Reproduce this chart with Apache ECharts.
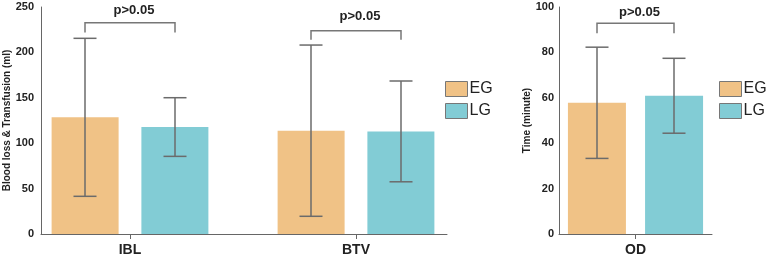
<!DOCTYPE html>
<html>
<head>
<meta charset="utf-8">
<script src="https://cdn.jsdelivr.net/npm/echarts@6/dist/echarts.min.js"></script>
<style>
  html, body { margin: 0; padding: 0; background: #fff; }
  #main { width: 767px; height: 258px; }
</style>
</head>
<body>
<div id="main"></div>
<script>
// data
var groups = ['EG', 'LG'];
var catLeft = ['IBL', 'BTV'];
var catRight = ['OD'];

var egMeanLeft = [128.5, 113.8];
var egSdLeft = [87, 94.3];
var lgMeanLeft = [117.8, 113];
var lgSdLeft = [32.3, 55.5];

var egMeanRight = [57.8];
var egSdRight = [24.5];
var lgMeanRight = [60.9];
var lgSdRight = [16.5];

// significance brackets: top of bracket, end of drops, label level
var sigTopLeft = [232.7, 223.9];
var sigDropLeft = [221.8, 214];
var sigTextLeft = [245.9, 239.3];
var sigTopRight = [92.8];
var sigDropRight = [88.4];
var sigTextRight = [97.6];
var sigLabel = 'p>0.05';

var yMaxLeft = 250, yStepLeft = 50;
var yMaxRight = 100, yStepRight = 20;

var FONT = 'Liberation Sans, Arial, sans-serif';
var colEG = '#F0C286';
var colLG = '#82CCD5';
var axisCol = '#666';
var errCol = '#6b6b6b';

var myChart = echarts.init(document.getElementById('main'));

function errorSeries(xi, yi, means, sds, side, offset) {
  return {
    type: 'custom',
    xAxisIndex: xi,
    yAxisIndex: yi,
    z: 5,
    silent: true,
    encode: { x: 0, y: [1, 2] },
    data: means.map(function (m, i) { return [i, m - sds[i], m + sds[i]]; }),
    renderItem: function (params, api) {
      var cx = api.coord([api.value(0), 0])[0] + side * offset;
      var lo = api.coord([api.value(0), api.value(1)])[1];
      var hi = api.coord([api.value(0), api.value(2)])[1];
      var cap = 11.5;
      var st = { stroke: errCol, lineWidth: 1.5 };
      return {
        type: 'group',
        children: [
          { type: 'line', shape: { x1: cx, y1: lo, x2: cx, y2: hi }, style: st },
          { type: 'line', shape: { x1: cx - cap, y1: hi, x2: cx + cap, y2: hi }, style: st },
          { type: 'line', shape: { x1: cx - cap, y1: lo, x2: cx + cap, y2: lo }, style: st }
        ]
      };
    }
  };
}

function sigSeries(xi, yi, tops, drops, texts, offset) {
  return {
    type: 'custom',
    xAxisIndex: xi,
    yAxisIndex: yi,
    z: 5,
    silent: true,
    encode: { x: 0, y: [1, 2, 3] },
    data: tops.map(function (t, i) { return [i, t, drops[i], texts[i]]; }),
    renderItem: function (params, api) {
      var cx = api.coord([api.value(0), 0])[0];
      var yTop = api.coord([api.value(0), api.value(1)])[1];
      var yDrop = api.coord([api.value(0), api.value(2)])[1];
      var yText = api.coord([api.value(0), api.value(3)])[1];
      return {
        type: 'group',
        children: [
          {
            type: 'polyline',
            shape: { points: [[cx - offset, yDrop], [cx - offset, yTop], [cx + offset, yTop], [cx + offset, yDrop]] },
            style: { stroke: '#777', lineWidth: 1.5, fill: null }
          },
          {
            type: 'text',
            x: cx + 4,
            y: yText,
            style: {
              text: sigLabel, fill: '#222', font: 'bold 13px ' + FONT,
              align: 'center', verticalAlign: 'middle'
            }
          }
        ]
      };
    }
  };
}

var yLabel = { color: '#222', fontWeight: 'bold', fontSize: 11, fontFamily: FONT };
var yName = { color: '#222', fontWeight: 'bold', fontSize: 10, fontFamily: FONT };
var xLabel = { color: '#222', fontWeight: 'bold', fontSize: 14, fontFamily: FONT, margin: 9 };

var legendBase = {
  orient: 'vertical',
  top: 81,
  padding: 0,
  icon: 'rect',
  itemWidth: 22,
  itemHeight: 15,
  itemGap: 6,
  data: groups,
  selectedMode: false,
  itemStyle: { borderColor: '#777', borderWidth: 1 },
  textStyle: { color: '#222', fontSize: 16, fontFamily: FONT, padding: [0, 0, 0, -3] }
};

var option = {
  animation: false,
  color: [colEG, colLG],
  grid: [
    { left: 41, width: 406, top: 7, bottom: 24, outerBoundsMode: 'none' },   // frame of left panel
    { left: 17, width: 452, top: 7, bottom: 24, outerBoundsMode: 'none' },   // bars of left panel
    { left: 559, width: 153, top: 7, bottom: 24, outerBoundsMode: 'none' }   // right panel
  ],
  legend: [
    Object.assign({ left: 445 }, legendBase),
    Object.assign({ left: 719 }, legendBase)
  ],
  xAxis: [
    {
      gridIndex: 0, type: 'category', data: [''],
      axisLine: { show: true, lineStyle: { color: axisCol, width: 1 } },
      axisTick: { show: false }, axisLabel: { show: false }
    },
    {
      gridIndex: 1, type: 'category', data: catLeft,
      axisLine: { show: false },
      axisTick: { show: true, alignWithLabel: true, length: 5, lineStyle: { color: axisCol } },
      axisLabel: xLabel
    },
    {
      gridIndex: 2, type: 'category', data: catRight,
      axisLine: { show: true, lineStyle: { color: axisCol, width: 1 } },
      axisTick: { show: true, alignWithLabel: true, length: 5, lineStyle: { color: axisCol } },
      axisLabel: xLabel
    }
  ],
  yAxis: [
    {
      gridIndex: 0, type: 'value', min: 0, max: yMaxLeft, interval: yStepLeft,
      name: 'Blood loss & Transfusion (ml)', nameLocation: 'middle', nameGap: 29,
      nameMoveOverlap: false,
      nameTextStyle: yName,
      axisLine: { show: true, lineStyle: { color: axisCol, width: 1 } },
      axisTick: { show: false }, splitLine: { show: false },
      axisLabel: Object.assign({ margin: 7 }, yLabel)
    },
    {
      gridIndex: 1, type: 'value', min: 0, max: yMaxLeft, interval: yStepLeft, show: false,
      splitLine: { show: false }
    },
    {
      gridIndex: 2, type: 'value', min: 0, max: yMaxRight, interval: yStepRight,
      name: 'Time (minute)', nameLocation: 'middle', nameGap: 27,
      nameMoveOverlap: false,
      nameTextStyle: yName,
      axisLine: { show: true, lineStyle: { color: axisCol, width: 1 } },
      axisTick: { show: false }, splitLine: { show: false },
      axisLabel: Object.assign({ margin: 5 }, yLabel)
    }
  ],
  series: [
    { name: 'EG', type: 'bar', xAxisIndex: 1, yAxisIndex: 1, barWidth: 67, barGap: '34%', data: egMeanLeft, itemStyle: { color: colEG } },
    { name: 'LG', type: 'bar', xAxisIndex: 1, yAxisIndex: 1, barWidth: 67, barGap: '34%', data: lgMeanLeft, itemStyle: { color: colLG } },
    { name: 'EG', type: 'bar', xAxisIndex: 2, yAxisIndex: 2, barWidth: 58, barGap: '33%', data: egMeanRight, itemStyle: { color: colEG } },
    { name: 'LG', type: 'bar', xAxisIndex: 2, yAxisIndex: 2, barWidth: 58, barGap: '33%', data: lgMeanRight, itemStyle: { color: colLG } },
    errorSeries(1, 1, egMeanLeft, egSdLeft, -1, 45),
    errorSeries(1, 1, lgMeanLeft, lgSdLeft, 1, 45),
    errorSeries(2, 2, egMeanRight, egSdRight, -1, 38.5),
    errorSeries(2, 2, lgMeanRight, lgSdRight, 1, 38.5),
    sigSeries(1, 1, sigTopLeft, sigDropLeft, sigTextLeft, 45),
    sigSeries(2, 2, sigTopRight, sigDropRight, sigTextRight, 38.5)
  ]
};

myChart.setOption(option);
</script>
</body>
</html>
